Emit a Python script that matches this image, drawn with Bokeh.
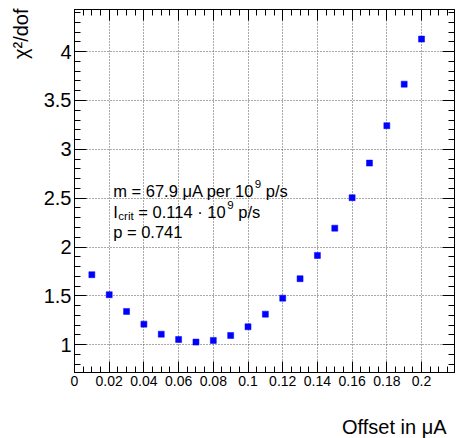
import math
from bokeh.plotting import figure
from bokeh.models import (Range1d, LinearAxis, Grid, SingleIntervalTicker,
                          NumeralTickFormatter, Label, ColumnDataSource)
from bokeh.embed import file_html
from bokeh.resources import INLINE

# ---- data -------------------------------------------------------------
offset = [0.01, 0.02, 0.03, 0.04, 0.05, 0.06, 0.07, 0.08, 0.09, 0.10,
          0.11, 0.12, 0.13, 0.14, 0.15, 0.16, 0.17, 0.18, 0.19, 0.20]
chi2_dof = [1.717, 1.512, 1.341, 1.211, 1.108, 1.054, 1.027, 1.044, 1.095, 1.184,
            1.313, 1.477, 1.676, 1.914, 2.193, 2.505, 2.859, 3.242, 3.667, 4.128]
x_title = "Offset in μA"
y_title = "χ²/dof"

# ---- layout constants ---------------------------------------------------
W, H = 457, 438
FL, FR, FT, FB = 74, 3, 9, 66
FW, FH = W - FL - FR, H - FT - FB
X0, X1 = 0.0, 0.219
Y0, Y1 = 0.716, 4.431
FONT = "Liberation Sans"


def dx(px):
    return X0 + (px - FL) * (X1 - X0) / FW


def dy(py):
    return Y0 + (FT + FH - py) * (Y1 - Y0) / FH


p = figure(width=W, height=H, frame_width=FW, frame_height=FH,
           x_range=Range1d(X0, X1), y_range=Range1d(Y0, Y1),
           x_axis_type=None, y_axis_type=None,
           output_backend="svg", toolbar_location=None,
           min_border_left=FL, min_border_right=FR,
           min_border_top=FT, min_border_bottom=FB)
p.outline_line_color = "black"
p.outline_line_width = 1
p.background_fill_color = "white"
p.border_fill_color = "white"

xt = SingleIntervalTicker(interval=0.02, num_minor_ticks=4)
yt = SingleIntervalTicker(interval=0.5, num_minor_ticks=5)


def style_axis(ax, major, minor, font_size, standoff, visible_labels=True):
    ax.major_tick_in = major
    ax.major_tick_out = 0
    ax.minor_tick_in = minor
    ax.minor_tick_out = 0
    ax.major_tick_line_color = "black"
    ax.minor_tick_line_color = "black"
    ax.axis_line_color = "black"
    ax.major_label_standoff = standoff
    ax.major_label_text_font = FONT
    if visible_labels:
        ax.major_label_text_color = "black"
        ax.major_label_text_font_size = font_size
    else:
        ax.major_label_text_color = None
        ax.major_label_text_font_size = "0px"


xb = LinearAxis(ticker=xt, formatter=NumeralTickFormatter(format="0.[00]"))
style_axis(xb, 11, 6, "14px", 3)
p.add_layout(xb, "below")
xa = LinearAxis(ticker=xt, formatter=NumeralTickFormatter(format="0.[00]"))
style_axis(xa, 11, 6, "0px", 0, False)
p.add_layout(xa, "above")

yl = LinearAxis(ticker=yt, formatter=NumeralTickFormatter(format="0.[0]"))
style_axis(yl, 12, 6, "20px", 3)
p.add_layout(yl, "left")
yr = LinearAxis(ticker=yt, formatter=NumeralTickFormatter(format="0.[0]"))
style_axis(yr, 12, 6, "0px", 0, False)
p.add_layout(yr, "right")

for dim, tk in ((0, xt), (1, yt)):
    g = Grid(dimension=dim, ticker=tk)
    g.grid_line_color = "#555555"
    g.grid_line_dash = "1 2"
    g.grid_line_width = 1
    p.add_layout(g)

src = ColumnDataSource(dict(x=offset, y=chi2_dof))
p.scatter("x", "y", source=src, marker="square", size=6,
          fill_color="#0000ff", line_color="#0000ff", line_width=0.5)

# ---- texts --------------------------------------------------------------
WID = {"m": 833, " ": 278, "=": 584, "6": 556, "7": 556, ".": 278, "9": 556,
       "μ": 576, "A": 667, "p": 556, "e": 556, "r": 333, "1": 556, "0": 556,
       "I": 278, "c": 500, "i": 222, "t": 278, "4": 556, "·": 333, "/": 278,
       "s": 500}


def tw(s, size):
    return sum(WID.get(ch, 556) for ch in s) * size / 1000.0


def lab(px, py, text, size, place="center", **kw):
    p.add_layout(Label(x=dx(px), y=dy(py), text=text, text_font=FONT,
                       text_font_size=f"{size}px", text_color="black",
                       text_baseline="alphabetic", **kw), place)


def rich_line(px, py, parts, size=16.5):
    # parts: list of (text, kind) with kind in "n", "sup", "sub"
    x = px
    for text, kind in parts:
        s = size if kind == "n" else size * 0.7
        lead = len(text) - len(text.lstrip(" "))
        x += tw(" " * lead, s)
        body = text.lstrip(" ")
        if kind == "n":
            lab(x, py, body, s)
        elif kind == "sup":
            x += 0.5
            lab(x, py - 7, body, s)
        else:
            x += 0.5
            lab(x, py + 4, body, s)
        x += tw(body, s)


TX = 112.7
rich_line(TX, 190, [("m = 67.9 μA per 10", "n"), ("9", "sup"), (" p/s", "n")])
rich_line(TX, 211.5, [("I", "n"), ("crit", "sub"), (" = 0.114 · 10", "n"),
                      ("9", "sup"), (" p/s", "n")])
rich_line(TX, 231, [("p = 0.741", "n")])

# axis titles, placed in the side panels so they are not clipped by the frame
lab(446, 426.7, x_title, 20, place="below", text_align="right")
lab(20, 8, y_title, 20, place="left", text_align="right", angle=math.pi / 2)

open("out.html", "w").write(file_html(p, INLINE))
